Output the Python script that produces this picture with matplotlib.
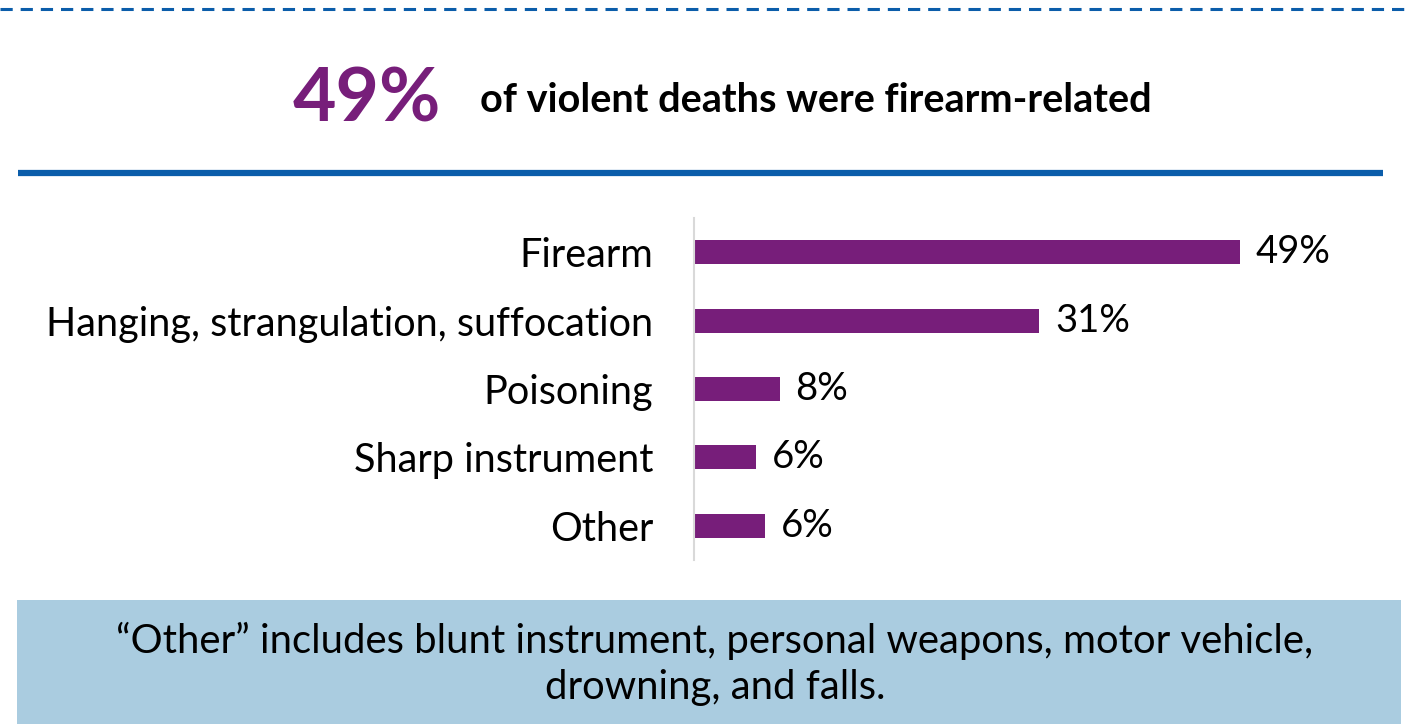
import numpy as np
import matplotlib
matplotlib.use("Agg")
import matplotlib.pyplot as plt
from matplotlib.patches import Rectangle
from matplotlib.lines import Line2D

plt.rcParams['font.family'] = ['Lato', 'DejaVu Sans']

# data
categories = ['Firearm', 'Hanging, strangulation, suffocation', 'Poisoning',
              'Sharp instrument', 'Other']
values = [49, 31, 7.7, 5.6, 6.4]
value_labels = ['49%', '31%', '8%', '6%', '6%']
headline = '49%'
headline_text = 'of violent deaths were firearm-related'
footnote = '\u201cOther\u201d includes blunt instrument, personal weapons, motor vehicle,\ndrowning, and falls.'

purple = '#771E7A'
blue = '#0B5DAA'
W, H = 1411, 724

fig = plt.figure(figsize=(W / 100, H / 100), dpi=100)


def fx(px):
    return px / W


def fy(py):
    # pixel from top -> figure fraction
    return 1 - py / H


# dashed top line and solid divider
fig.add_artist(Line2D([fx(0), fx(1408)], [fy(9), fy(9)], color=blue, lw=2.2,
                      dashes=(4, 2.6), transform=fig.transFigure))
fig.add_artist(Line2D([fx(18), fx(1383)], [fy(173), fy(173)], color=blue, lw=4.5,
                      transform=fig.transFigure, solid_capstyle='butt'))

# header
fig.text(fx(441), fy(122), headline, color=purple, fontsize=54, fontweight='bold',
         ha='right', va='baseline')
fig.text(fx(480), fy(112), headline_text, color='black', fontsize=28.5, fontweight='bold',
         ha='left', va='baseline')

# bar chart
scale = 11.14  # px per percent
ax_left, ax_top, ax_bottom = 694, 218, 560
xmax = 60
ax = fig.add_axes([fx(ax_left), fy(ax_bottom), xmax * scale / W, (ax_bottom - ax_top) / H])
y = np.arange(len(categories))
ax.barh(y, values, height=0.35, color=purple)
ax.set_xlim(0, xmax)
ax.set_ylim(len(categories) - 0.5, -0.5)
ax.set_yticks(y)
ax.set_yticklabels(categories, fontsize=28.5)
ax.tick_params(axis='y', length=0, pad=29.5)
ax.set_xticks([])
for s in ['top', 'right', 'bottom']:
    ax.spines[s].set_visible(False)
ax.spines['left'].set_color('#D9D9D9')
ax.spines['left'].set_linewidth(1.5)
for yi, v, lab in zip(y, values, value_labels):
    ax.text(v + 1.4, yi, lab, fontsize=27.5, va='center', ha='left')

# footnote box
fig.add_artist(Rectangle((fx(17), 0), fx(1384), fy(600), transform=fig.transFigure,
                         facecolor='#AACCE0', edgecolor='none'))
fig.text(fx(715), fy(664), footnote, fontsize=28.8, ha='center', va='center',
         linespacing=1.32)

fig.savefig('out.png', dpi=100)
